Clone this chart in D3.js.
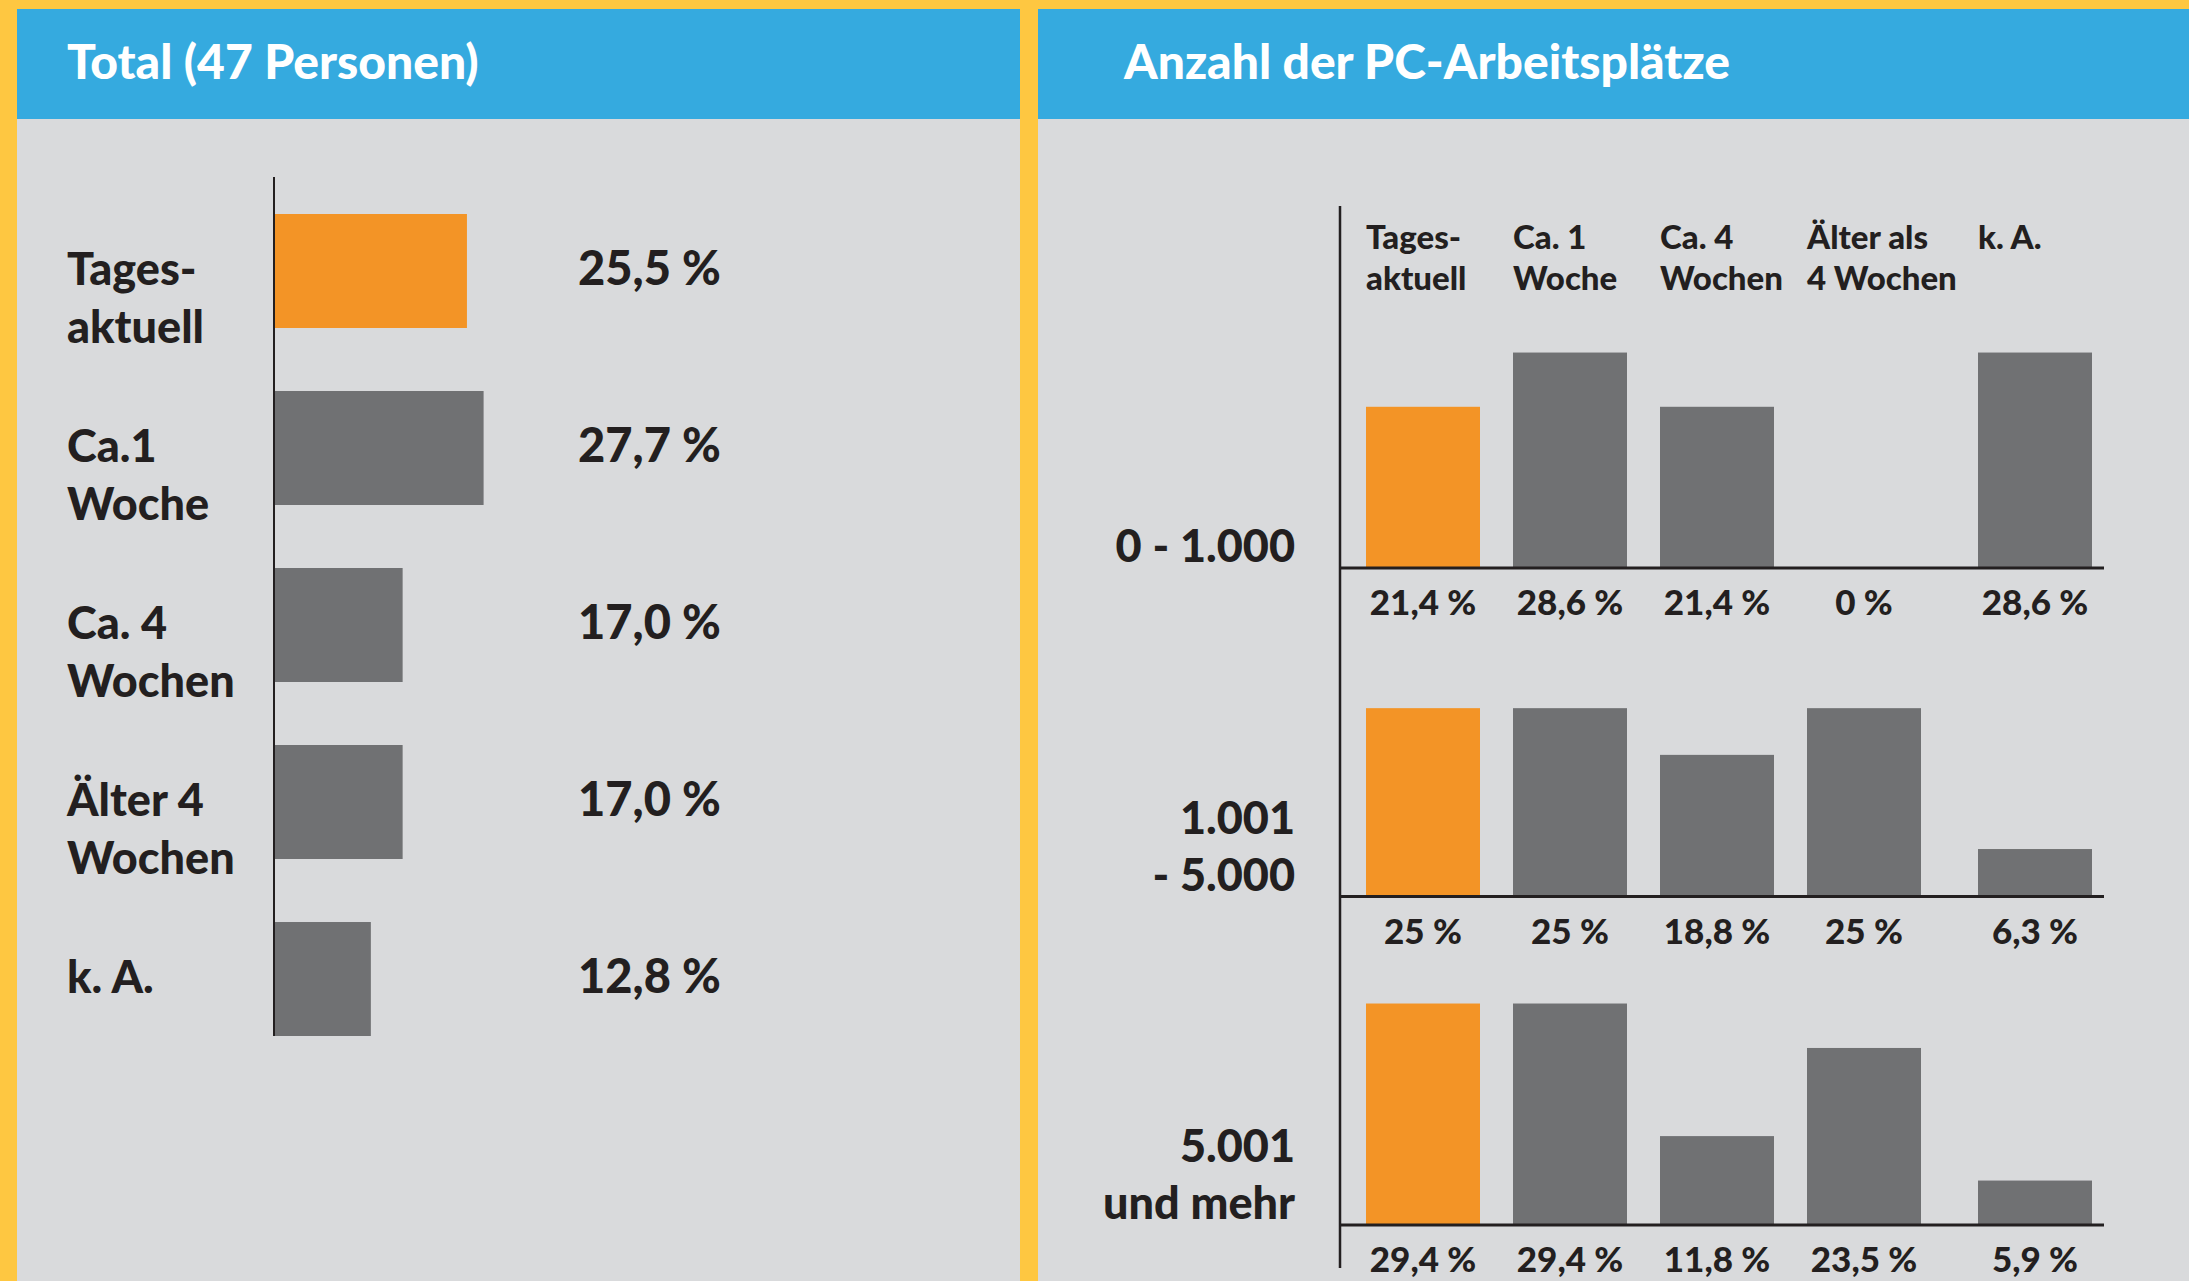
<!DOCTYPE html>
<meta charset="utf-8" />
<style>
  body { margin: 0; background: #fec741; }
  svg { display: block; }
  text { font-family: Lato, "Open Sans", sans-serif; font-weight: 900; fill: #231f20; }
  .head { fill: #fff; font-size: 48px; }
  .label { font-size: 45px; }
  .value { font-size: 47px; }
  .col { font-size: 33px; }
  .small { font-size: 35px; }
</style>
<svg width="2189" height="1281"></svg>
<script src="https://d3js.org/d3.v7.min.js"></script>
<script>
  // left chart: all respondents
  const totalTitle = 'Total (47 Personen)';
  const totalCategories = [['Tages-', 'aktuell'], ['Ca.1', 'Woche'], ['Ca. 4', 'Wochen'], ['Älter 4', 'Wochen'], ['k. A.']];
  const totalValues = [25.5, 27.7, 17.0, 17.0, 12.8];

  // right chart: by number of PC workplaces
  const pcTitle = 'Anzahl der PC-Arbeitsplätze';
  const pcColumns = [['Tages-', 'aktuell'], ['Ca. 1', 'Woche'], ['Ca. 4', 'Wochen'], ['Älter als', '4 Wochen'], ['k. A.']];
  const pcRows = [['0 - 1.000'], ['1.001', '- 5.000'], ['5.001', 'und mehr']];
  const pcSmall = [21.4, 28.6, 21.4, 0, 28.6];
  const pcMedium = [25, 25, 18.8, 25, 6.3];
  const pcLarge = [29.4, 29.4, 11.8, 23.5, 5.9];
  const pcValues = [pcSmall, pcMedium, pcLarge];

  const orange = '#f39426';
  const grey = '#707173';

  const de = d3.formatLocale({ decimal: ',', thousands: '.', grouping: [3], currency: ['', ' €'] });
  const fmtTotal = de.format('.1f');
  const fmtPc = de.format('~f');

  const svg = d3.select('svg');
  const W = +svg.attr('width');
  const H = +svg.attr('height');

  svg.append('rect').attr('width', W).attr('height', H).attr('fill', '#fec741');

  // panels
  const panels = [
    { x: 17, w: 1003, title: totalTitle, tx: 67 },
    { x: 1038, w: W - 1038, title: pcTitle, tx: 1124 }
  ];
  panels.forEach(function (p) {
    svg.append('rect').attr('x', p.x).attr('y', 9).attr('width', p.w).attr('height', H - 9).attr('fill', '#d9dadc');
    svg.append('rect').attr('x', p.x).attr('y', 9).attr('width', p.w).attr('height', 110).attr('fill', '#35aadf');
    svg.append('text').attr('class', 'head').attr('x', p.tx).attr('y', 79).text(p.title);
  });

  // ---- left: horizontal bars ----
  const names = totalCategories.map(function (d) { return d.join(' '); });
  const x = d3.scaleLinear().domain([0, 30]).range([274, 274 + 227]);
  const yb = d3.scaleBand().domain(names).range([214, 1036]).paddingInner(0.356).paddingOuter(0);

  const left = svg.append('g');
  left.selectAll('rect.bar')
    .data(totalValues)
    .join('rect')
    .attr('class', 'bar')
    .attr('x', x(0))
    .attr('y', function (d, i) { return yb(names[i]); })
    .attr('width', function (d) { return x(d) - x(0); })
    .attr('height', yb.bandwidth())
    .attr('fill', function (d, i) { return i === 0 ? orange : grey; });

  left.append('line')
    .attr('x1', x(0)).attr('x2', x(0))
    .attr('y1', 177).attr('y2', 1036)
    .attr('stroke', '#231f20').attr('stroke-width', 2);

  left.selectAll('text.label')
    .data(totalCategories)
    .join('text')
    .attr('class', 'label')
    .attr('x', 67)
    .attr('y', function (d, i) { return yb(names[i]) + yb.bandwidth() / 2 + 14; })
    .each(function (d) {
      const t = d3.select(this);
      d.forEach(function (line, j) {
        t.append('tspan').attr('x', 67).attr('dy', j ? 58 : 0).text(line);
      });
    });

  left.selectAll('text.value')
    .data(totalValues)
    .join('text')
    .attr('class', 'value')
    .attr('x', 578)
    .attr('y', function (d, i) { return yb(names[i]) + yb.bandwidth() / 2 + 14; })
    .text(function (d) { return fmtTotal(d) + ' %'; });

  // ---- right: small multiples of vertical bars ----
  const colNames = pcColumns.map(function (d) { return d.join(' '); });
  const rowNames = pcRows.map(function (d) { return d.join(' '); });
  const cx = d3.scaleBand().domain(colNames).range([1366, 1366 + 5 * 147 - 33]).paddingInner(33 / 147).paddingOuter(0);
  const kaGap = 24; // extra space before the "k. A." column
  const colX = function (i) { return cx(colNames[i]) + (i === colNames.length - 1 ? kaGap : 0); };
  const base = d3.scalePoint().domain(rowNames).range([568, 1225]);
  const h = d3.scaleLinear().domain([0, 30]).range([0, 226]);

  const right = svg.append('g');

  right.append('line')
    .attr('x1', 1340).attr('x2', 1340)
    .attr('y1', 206).attr('y2', 1268)
    .attr('stroke', '#231f20').attr('stroke-width', 2.5);

  right.selectAll('text.col')
    .data(pcColumns)
    .join('text')
    .attr('class', 'col')
    .attr('x', function (d, i) { return colX(i); })
    .attr('y', 249)
    .each(function (d, i) {
      const t = d3.select(this);
      d.forEach(function (line, j) {
        t.append('tspan').attr('x', colX(i)).attr('dy', j ? 41 : 0).text(line);
      });
    });

  pcValues.forEach(function (vals, r) {
    const y0 = base(rowNames[r]);
    const g = right.append('g');

    g.selectAll('rect')
      .data(vals)
      .join('rect')
      .attr('x', function (d, i) { return colX(i); })
      .attr('y', function (d) { return y0 - h(d); })
      .attr('width', cx.bandwidth())
      .attr('height', function (d) { return h(d); })
      .attr('fill', function (d, i) { return i === 0 ? orange : grey; });

    g.append('line')
      .attr('x1', 1340).attr('x2', 2104)
      .attr('y1', y0).attr('y2', y0)
      .attr('stroke', '#231f20').attr('stroke-width', 3);

    g.selectAll('text.small')
      .data(vals)
      .join('text')
      .attr('class', 'small')
      .attr('text-anchor', 'middle')
      .attr('x', function (d, i) { return colX(i) + cx.bandwidth() / 2; })
      .attr('y', y0 + 47)
      .text(function (d) { return fmtPc(d) + ' %'; });

    const lines = pcRows[r];
    g.append('text')
      .attr('class', 'label')
      .attr('text-anchor', 'end')
      .attr('y', y0 - 6 - (lines.length - 1) * 57)
      .selectAll('tspan')
      .data(lines)
      .join('tspan')
      .attr('x', 1295)
      .attr('dy', function (d, j) { return j ? 57 : 0; })
      .text(function (d) { return d; });
  });
</script>
